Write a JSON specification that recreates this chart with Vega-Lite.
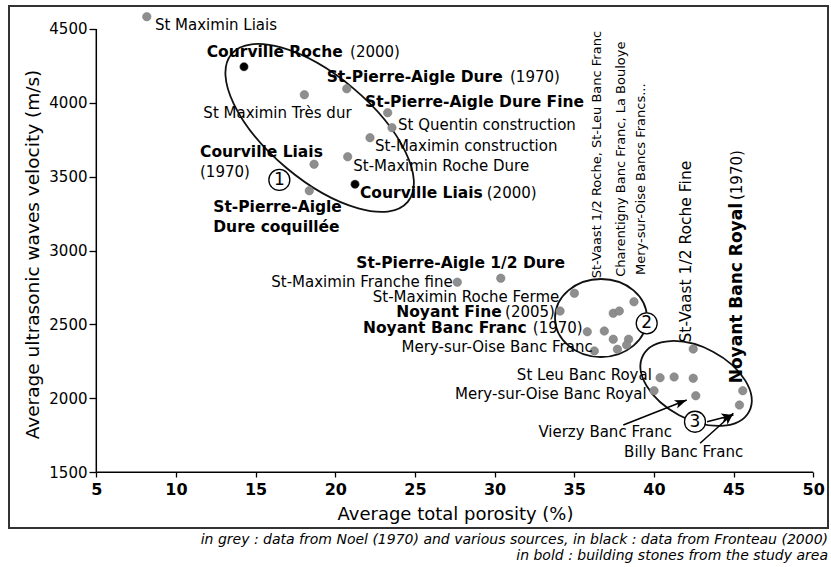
{
  "$schema": "https://vega.github.io/schema/vega-lite/v6.json",
  "width": 819,
  "height": 522,
  "autosize": "none",
  "padding": {"left": 9, "top": 6, "right": 3, "bottom": 39},
  "background": "white",
  "config": {
    "view": {"stroke": "#333333", "strokeWidth": 2},
    "font": "DejaVu Sans",
    "axis": {"labelFont": "DejaVu Sans", "titleFont": "DejaVu Sans", "labelColor": "#000", "titleColor": "#000", "tickColor": "#000"}
  },
  "title": {
    "text": ["in grey : data from Noel (1970) and various sources, in black : data from Fronteau (2000)", "in bold : building stones from the study area"],
    "orient": "bottom",
    "anchor": "end",
    "font": "DejaVu Sans",
    "fontStyle": "italic",
    "fontWeight": "normal",
    "fontSize": 14,
    "lineHeight": 15.5,
    "offset": 5,
    "color": "#000"
  },
  "datasets": {
    "pts": [
      {"name": "St Maximin Liais", "x": 8.17, "y": 4583, "source": "Noel (1970) and various"},
      {"name": "Courville Roche (2000)", "x": 14.27, "y": 4244, "source": "Fronteau (2000)"},
      {"name": "St Maximin Très dur", "x": 18.06, "y": 4055, "source": "Noel (1970) and various"},
      {"name": "St-Pierre-Aigle Dure (1970)", "x": 20.72, "y": 4095, "source": "Noel (1970) and various"},
      {"name": "St-Pierre-Aigle Dure Fine", "x": 23.29, "y": 3933, "source": "Noel (1970) and various"},
      {"name": "St Quentin construction", "x": 23.56, "y": 3832, "source": "Noel (1970) and various"},
      {"name": "St-Maximin construction", "x": 22.18, "y": 3764, "source": "Noel (1970) and various"},
      {"name": "St-Maximin Roche Dure", "x": 20.78, "y": 3635, "source": "Noel (1970) and various"},
      {"name": "Courville Liais (1970)", "x": 18.67, "y": 3584, "source": "Noel (1970) and various"},
      {"name": "St-Pierre-Aigle Dure coquillée", "x": 18.37, "y": 3405, "source": "Noel (1970) and various"},
      {"name": "Courville Liais (2000)", "x": 21.24, "y": 3449, "source": "Fronteau (2000)"},
      {"name": "St-Maximin Franche fine", "x": 27.66, "y": 2786, "source": "Noel (1970) and various"},
      {"name": "St-Pierre-Aigle 1/2 Dure", "x": 30.39, "y": 2813, "source": "Noel (1970) and various"},
      {"name": "St-Maximin Roche Ferme", "x": 35.01, "y": 2711, "source": "Noel (1970) and various"},
      {"name": "Noyant Fine (2005)", "x": 34.11, "y": 2591, "source": "Noel (1970) and various"},
      {"name": "Mery-sur-Oise Bancs Francs", "x": 38.75, "y": 2654, "source": "Noel (1970) and various"},
      {"name": "Charentigny Banc Franc", "x": 37.45, "y": 2576, "source": "Noel (1970) and various"},
      {"name": "La Bouloye", "x": 37.83, "y": 2591, "source": "Noel (1970) and various"},
      {"name": "Noyant Banc Franc (1970)", "x": 35.82, "y": 2451, "source": "Noel (1970) and various"},
      {"name": "St-Vaast 1/2 Roche", "x": 36.89, "y": 2456, "source": "Noel (1970) and various"},
      {"name": "St-Leu Banc Franc", "x": 37.45, "y": 2400, "source": "Noel (1970) and various"},
      {"name": "Banc Franc a", "x": 38.41, "y": 2400, "source": "Noel (1970) and various"},
      {"name": "Mery-sur-Oise Banc Franc", "x": 36.26, "y": 2321, "source": "Noel (1970) and various"},
      {"name": "Banc Franc b", "x": 37.71, "y": 2332, "source": "Noel (1970) and various"},
      {"name": "Banc Franc c", "x": 38.29, "y": 2361, "source": "Noel (1970) and various"},
      {"name": "St-Vaast 1/2 Roche Fine", "x": 42.47, "y": 2334, "source": "Noel (1970) and various"},
      {"name": "St Leu Banc Royal a", "x": 40.39, "y": 2140, "source": "Noel (1970) and various"},
      {"name": "St Leu Banc Royal b", "x": 41.27, "y": 2145, "source": "Noel (1970) and various"},
      {"name": "St Leu Banc Royal c", "x": 42.47, "y": 2136, "source": "Noel (1970) and various"},
      {"name": "Mery-sur-Oise Banc Royal", "x": 40.01, "y": 2052, "source": "Noel (1970) and various"},
      {"name": "Vierzy Banc Franc", "x": 42.63, "y": 2018, "source": "Noel (1970) and various"},
      {"name": "Noyant Banc Royal (1970)", "x": 45.58, "y": 2052, "source": "Noel (1970) and various"},
      {"name": "Billy Banc Franc", "x": 45.37, "y": 1955, "source": "Noel (1970) and various"}
    ],
    "labels": [
      {"text": "St Maximin Liais", "x": 8.68, "y": 4526, "bold": false, "side": "L"},
      {"text": "Courville Roche", "x": 11.93, "y": 4346, "bold": true, "side": "L"},
      {"text": "(2000)", "x": 20.93, "y": 4346, "bold": false, "side": "L"},
      {"text": "St-Pierre-Aigle Dure", "x": 19.46, "y": 4173, "bold": true, "side": "L"},
      {"text": "(1970)", "x": 30.97, "y": 4173, "bold": false, "side": "L"},
      {"text": "St-Pierre-Aigle Dure Fine", "x": 21.87, "y": 4007, "bold": true, "side": "L"},
      {"text": "St Quentin construction", "x": 23.94, "y": 3850, "bold": false, "side": "L"},
      {"text": "St-Maximin construction", "x": 22.5, "y": 3710, "bold": false, "side": "L"},
      {"text": "St-Maximin Roche Dure", "x": 21.13, "y": 3574, "bold": false, "side": "L"},
      {"text": "Courville Liais", "x": 21.55, "y": 3388, "bold": true, "side": "L"},
      {"text": "(2000)", "x": 29.51, "y": 3388, "bold": false, "side": "L"},
      {"text": "St Maximin Très dur", "x": 11.72, "y": 3929, "bold": false, "side": "L"},
      {"text": "Courville Liais", "x": 11.51, "y": 3669, "bold": true, "side": "L"},
      {"text": "(1970)", "x": 11.51, "y": 3534, "bold": false, "side": "L"},
      {"text": "St-Pierre-Aigle", "x": 12.34, "y": 3297, "bold": true, "side": "L"},
      {"text": "Dure coquillée", "x": 12.34, "y": 3162, "bold": true, "side": "L"},
      {"text": "St-Pierre-Aigle 1/2 Dure", "x": 34.42, "y": 2914, "bold": true, "side": "R"},
      {"text": "St-Maximin Franche fine", "x": 27.37, "y": 2786, "bold": false, "side": "R"},
      {"text": "St-Maximin Roche Ferme", "x": 34.06, "y": 2688, "bold": false, "side": "R"},
      {"text": "Noyant Fine", "x": 30.45, "y": 2587, "bold": true, "side": "R"},
      {"text": "(2005)", "x": 30.66, "y": 2587, "bold": false, "side": "L"},
      {"text": "Noyant Banc Franc", "x": 32.02, "y": 2474, "bold": true, "side": "R"},
      {"text": "(1970)", "x": 32.4, "y": 2474, "bold": false, "side": "L"},
      {"text": "Mery-sur-Oise Banc Franc", "x": 36.16, "y": 2350, "bold": false, "side": "R"},
      {"text": "St Leu Banc Royal", "x": 39.87, "y": 2158, "bold": false, "side": "R"},
      {"text": "Mery-sur-Oise Banc Royal", "x": 39.55, "y": 2030, "bold": false, "side": "R"},
      {"text": "Vierzy Banc Franc", "x": 32.75, "y": 1771, "bold": false, "side": "L"},
      {"text": "Billy Banc Franc", "x": 38.13, "y": 1639, "bold": false, "side": "L"}
    ],
    "vlabels": [
      {"text": "St-Vaast 1/2 Roche, St-Leu Banc Franc", "x": 36.45, "y": 2813, "kind": "list"},
      {"text": "Charentigny Banc Franc, La Bouloye", "x": 37.94, "y": 2823, "kind": "list"},
      {"text": "Mery-sur-Oise Bancs Francs...", "x": 39.19, "y": 2835, "kind": "list"},
      {"text": "St-Vaast 1/2 Roche Fine", "x": 42.02, "y": 2378, "kind": "name"},
      {"text": "Noyant Banc Royal", "x": 45.2, "y": 2102, "kind": "bold"},
      {"text": "(1970)", "x": 45.2, "y": 3342, "kind": "year"}
    ],
    "groups": [
      {"group": "1", "x": 19.02, "y": 3830},
      {"group": "2", "x": 36.68, "y": 2544},
      {"group": "3", "x": 42.65, "y": 2101}
    ],
    "arrows": [
      {"x": 38.08, "y": 1820, "x2": 42.06, "y2": 1989, "heading": 68.5},
      {"x": 42.9, "y": 1696, "x2": 44.99, "y2": 1899, "heading": 48},
      {"x": 43.34, "y": 1842, "x2": 44.99, "y2": 1888, "heading": 75.7}
    ],
    "axislines": [
      {"x": 5, "y": 1500, "x2": 50, "y2": 1500},
      {"x": 5, "y": 1500, "x2": 5, "y2": 4500}
    ],
    "grid": [{"x": 10}, {"x": 15}, {"x": 20}, {"x": 25}, {"x": 30}, {"x": 35}, {"x": 40}, {"x": 45}, {"x": 50}]
  },
  "encoding": {
    "x": {
      "field": "x", "type": "quantitative",
      "scale": {"domain": [-0.48, 50.93], "nice": false, "zero": false},
      "axis": {
        "title": "Average total porosity (%)",
        "values": [5, 10, 15, 20, 25, 30, 35, 40, 45, 50],
        "format": "d",
        "offset": -56, "domain": false, "grid": false,
        "tickSize": 5, "tickWidth": 1.3,
        "labelFontWeight": "bold", "labelFontSize": 16, "labelPadding": 4, "labelOverlap": false, "labelFlush": false,
        "titleFontSize": 18, "titleFontWeight": "normal", "titlePadding": 8, "titleX": 446
      }
    },
    "y": {
      "field": "y", "type": "quantitative",
      "scale": {"domain": [1123, 4655], "nice": false, "zero": false},
      "axis": {
        "title": "Average ultrasonic waves velocity (m/s)",
        "values": [1500, 2000, 2500, 3000, 3500, 4000, 4500],
        "format": "d",
        "offset": -87, "domain": false, "grid": false,
        "tickSize": 7, "tickWidth": 1.3,
        "labelFontSize": 15, "labelPadding": 2, "labelOverlap": false, "labelFlush": false,
        "titleFontSize": 18.5, "titleFontWeight": "normal", "titlePadding": 6, "titleY": 248
      }
    }
  },
  "layer": [
    {
      "data": {"name": "grid"},
      "mark": {"type": "rule", "stroke": "#c8c8c8", "strokeWidth": 1, "strokeDash": [4, 10]},
      "encoding": {"y": {"datum": 1500}, "y2": {"datum": 4500}}
    },
    {
      "data": {"name": "axislines"},
      "mark": {"type": "rule", "stroke": "#000", "strokeWidth": 1.5},
      "encoding": {"x2": {"field": "x2"}, "y2": {"field": "y2"}}
    },
    {
      "data": {"name": "groups"},
      "mark": {"type": "point", "filled": false, "stroke": "#111", "strokeWidth": 1.8, "size": 4, "opacity": 1},
      "encoding": {
        "shape": {
          "field": "group", "type": "nominal", "legend": null,
          "scale": {"domain": ["1", "2", "3"], "range": [
            "M 88.1 73.92 A 115 52 40 1 1 -88.1 -73.92 A 115 52 40 1 1 88.1 73.92 Z",
            "M 46 0 A 46 39 0 1 1 -46 0 A 46 39 0 1 1 46 0 Z",
            "M 52.98 28.17 A 60 36 28 1 1 -52.98 -28.17 A 60 36 28 1 1 52.98 28.17 Z"
          ]}
        }
      }
    },
    {
      "data": {"name": "arrows"},
      "mark": {"type": "rule", "stroke": "#000", "strokeWidth": 1.5},
      "encoding": {"x2": {"field": "x2"}, "y2": {"field": "y2"}}
    },
    {
      "data": {"name": "arrows"},
      "mark": {"type": "point", "filled": true, "fill": "#000", "strokeWidth": 0, "size": 4, "opacity": 1, "shape": "M 0 0 L 4.5 12 L 0 9 L -4.5 12 Z"},
      "encoding": {
        "x": {"field": "x2", "type": "quantitative"},
        "y": {"field": "y2", "type": "quantitative"},
        "angle": {"field": "heading", "type": "quantitative", "scale": null}
      }
    },
    {
      "data": {"name": "pts"},
      "mark": {"type": "point", "filled": true, "size": 72, "opacity": 1, "stroke": "#777", "strokeWidth": 0.5},
      "encoding": {
        "color": {"field": "source", "type": "nominal", "legend": null,
          "scale": {"domain": ["Noel (1970) and various", "Fronteau (2000)"], "range": ["#8e8e8e", "#000000"]}}
      }
    },
    {
      "data": {"name": "labels"},
      "transform": [{"filter": "!datum.bold && datum.side == 'L'"}],
      "mark": {"type": "text", "align": "left", "baseline": "middle", "fontSize": 15, "font": "DejaVu Sans", "color": "#000"},
      "encoding": {"text": {"field": "text"}}
    },
    {
      "data": {"name": "labels"},
      "transform": [{"filter": "!datum.bold && datum.side == 'R'"}],
      "mark": {"type": "text", "align": "right", "baseline": "middle", "fontSize": 15, "font": "DejaVu Sans", "color": "#000"},
      "encoding": {"text": {"field": "text"}}
    },
    {
      "data": {"name": "labels"},
      "transform": [{"filter": "datum.bold && datum.side == 'L'"}],
      "mark": {"type": "text", "align": "left", "baseline": "middle", "fontSize": 15.5, "fontWeight": "bold", "font": "DejaVu Sans", "color": "#000"},
      "encoding": {"text": {"field": "text"}}
    },
    {
      "data": {"name": "labels"},
      "transform": [{"filter": "datum.bold && datum.side == 'R'"}],
      "mark": {"type": "text", "align": "right", "baseline": "middle", "fontSize": 15.5, "fontWeight": "bold", "font": "DejaVu Sans", "color": "#000"},
      "encoding": {"text": {"field": "text"}}
    },
    {
      "data": {"name": "vlabels"},
      "transform": [{"filter": "datum.kind == 'list'"}],
      "mark": {"type": "text", "align": "left", "baseline": "middle", "angle": 270, "fontSize": 13, "font": "DejaVu Sans", "color": "#000"},
      "encoding": {"text": {"field": "text"}}
    },
    {
      "data": {"name": "vlabels"},
      "transform": [{"filter": "datum.kind == 'name'"}],
      "mark": {"type": "text", "align": "left", "baseline": "middle", "angle": 270, "fontSize": 15.5, "font": "DejaVu Sans", "color": "#000"},
      "encoding": {"text": {"field": "text"}}
    },
    {
      "data": {"name": "vlabels"},
      "transform": [{"filter": "datum.kind == 'year'"}],
      "mark": {"type": "text", "align": "left", "baseline": "middle", "angle": 270, "fontSize": 15, "font": "DejaVu Sans", "color": "#000"},
      "encoding": {"text": {"field": "text"}}
    },
    {
      "data": {"name": "vlabels"},
      "transform": [{"filter": "datum.kind == 'bold'"}],
      "mark": {"type": "text", "align": "left", "baseline": "middle", "angle": 270, "fontSize": 17, "fontWeight": "bold", "font": "DejaVu Sans", "color": "#000"},
      "encoding": {"text": {"field": "text"}}
    },
    {
      "data": {"values": [{"n": "1", "x": 16.49, "y": 3478}, {"n": "2", "x": 39.55, "y": 2508}, {"n": "3", "x": 42.58, "y": 1842}]},
      "layer": [
        {"mark": {"type": "point", "shape": "circle", "filled": true, "fill": "white", "stroke": "#000", "strokeWidth": 1.3, "size": 440, "opacity": 1}},
        {"mark": {"type": "text", "align": "center", "baseline": "middle", "fontSize": 17, "font": "DejaVu Sans", "color": "#000"}, "encoding": {"text": {"field": "n"}}}
      ]
    }
  ]
}
